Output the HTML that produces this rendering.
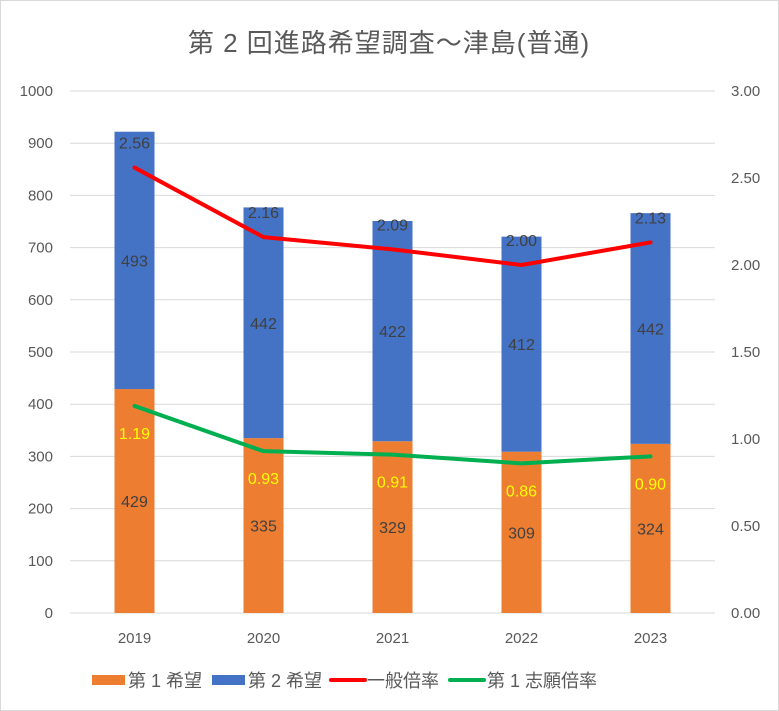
<!DOCTYPE html>
<html><head><meta charset="utf-8"><style>
body{margin:0;background:#fff}
svg{display:block;font-family:"Liberation Sans","Noto Sans CJK JP",sans-serif}
</style></head><body>
<svg id="c" width="779" height="711" viewBox="0 0 779 711">
<rect x="0.5" y="0.5" width="778" height="710" fill="#fff" stroke="#d9d9d9"/>
<text x="389" y="52" text-anchor="middle" font-size="26" letter-spacing="1" fill="#595959">第 2 回進路希望調査～津島(普通)</text>
<g id="grid"></g><g id="bars"></g><g id="lines"></g><g id="labels"></g><g id="axes"></g>
<g font-size="18" fill="#595959">
<rect x="92" y="675" width="33" height="10" fill="#ED7D31"/>
<text x="128" y="687">第 1 希望</text>
<rect x="212" y="675" width="33" height="10" fill="#4472C4"/>
<text x="248" y="687">第 2 希望</text>
<line x1="331" y1="680" x2="365" y2="680" stroke="#FF0000" stroke-width="4" stroke-linecap="round"/>
<text x="367" y="687">一般倍率</text>
<line x1="450" y1="680" x2="484" y2="680" stroke="#00B050" stroke-width="4" stroke-linecap="round"/>
<text x="487" y="687">第 1 志願倍率</text>
</g>
</svg>
<script>
const categories=["2019","2020","2021","2022","2023"];
const first=[429,335,329,309,324];
const second=[493,442,422,412,442];
const generalRate=[2.56,2.16,2.09,2.00,2.13];
const firstRate=[1.19,0.93,0.91,0.86,0.90];
const leftTicks=[0,100,200,300,400,500,600,700,800,900,1000];
const rightTicks=["0.00","0.50","1.00","1.50","2.00","2.50","3.00"];
const NS="http://www.w3.org/2000/svg";
const y0=613,y1=91,xL=70,xR=715;
const yL=v=>y0-(v/1000)*(y0-y1);
const yR=v=>y0-(v/3)*(y0-y1);
const xC=i=>xL+(xR-xL)*(i+0.5)/categories.length;
function mk(p,t,a){const e=document.createElementNS(NS,t);for(const k in a)e.setAttribute(k,a[k]);document.getElementById(p).appendChild(e);return e;}
leftTicks.forEach(v=>{
 const l=mk("grid","line",{x1:xL,x2:xR,y1:yL(v),y2:yL(v),stroke:"#d9d9d9","stroke-width":1});
 
 
 const t=mk("axes","text",{x:53,y:yL(v)+5,"text-anchor":"end","font-size":15,fill:"#595959"});t.textContent=v;
 
 
});
rightTicks.forEach(s=>{
 const t=mk("axes","text",{x:731,y:yR(+s)+5,"font-size":15,fill:"#595959"});t.textContent=s;
 
 
});
categories.forEach((c,i)=>{
 const t=mk("axes","text",{x:xC(i),y:643,"text-anchor":"middle","font-size":15,fill:"#595959"});t.textContent=c;
 
 
 const w=40,x=xC(i)-w/2;
 const b1=mk("bars","rect",{x:x,y:yL(first[i]),width:w,height:y0-yL(first[i]),fill:"#ED7D31"});
 
 
 const b2=mk("bars","rect",{x:x,y:yL(first[i]+second[i]),width:w,height:yL(first[i])-yL(first[i]+second[i]),fill:"#4472C4"});
 
 
 const l1=mk("labels","text",{x:xC(i),y:(yL(first[i])+y0)/2+6,"text-anchor":"middle","font-size":16,fill:"#404040"});l1.textContent=first[i];
 
 
 const l2=mk("labels","text",{x:xC(i),y:(yL(first[i])+yL(first[i]+second[i]))/2+6,"text-anchor":"middle","font-size":16,fill:"#404040"});l2.textContent=second[i];
 
 
 const l3=mk("labels","text",{x:xC(i),y:yR(generalRate[i])-19,"text-anchor":"middle","font-size":16,fill:"#404040"});l3.textContent=generalRate[i].toFixed(2);
 
 
 const l4=mk("labels","text",{x:xC(i),y:yR(firstRate[i])+33,"text-anchor":"middle","font-size":16,fill:"#FFFF00"});l4.textContent=firstRate[i].toFixed(2);
 
 
});
const p1=mk("lines","polyline",{points:generalRate.map((v,i)=>xC(i)+","+yR(v)).join(" "),fill:"none",stroke:"#FF0000","stroke-width":4,"stroke-linejoin":"round","stroke-linecap":"round"});


const p2=mk("lines","polyline",{points:firstRate.map((v,i)=>xC(i)+","+yR(v)).join(" "),fill:"none",stroke:"#00B050","stroke-width":4,"stroke-linejoin":"round","stroke-linecap":"round"});


</script>
</body></html>
